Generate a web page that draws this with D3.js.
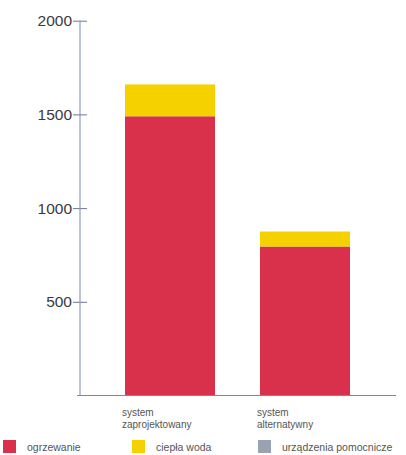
<!DOCTYPE html>
<html>
<head>
<meta charset="utf-8">
<script src="https://cdn.jsdelivr.net/npm/d3@7"></script>
<style>
  body { margin: 0; background: #fff; }
  svg { display: block; font-family: "Liberation Sans", Arial, sans-serif; }
</style>
</head>
<body>
<svg id="chart" width="406" height="455"></svg>
<script>
// values
var categories = [['system', 'zaprojektowany'], ['system', 'alternatywny']];
var heating = [1490, 795];      // ogrzewanie
var hotWater = [170, 80];       // ciepła woda
var auxiliary = [0, 0];         // urządzenia pomocnicze
var yTicks = [500, 1000, 1500, 2000];
var seriesNames = ['ogrzewanie', 'ciepła woda', 'urządzenia pomocnicze'];
var seriesColors = ['#d9304c', '#f6d100', '#9aa3b1'];

var svg = d3.select('#chart');

var x = d3.scaleBand()
    .domain(d3.range(categories.length))
    .range([80, 395])
    .paddingInner(1 / 3)
    .paddingOuter(1 / 3);

var y = d3.scaleLinear()
    .domain([0, 2000])
    .range([395.5, 20.7]);

// stack the three series
var rows = categories.map(function(c, i) {
    return { i: i, heating: heating[i], hotWater: hotWater[i], auxiliary: auxiliary[i] };
});
var stack = d3.stack().keys(['heating', 'hotWater', 'auxiliary']);
var layers = stack(rows);

svg.selectAll('g.layer')
    .data(layers)
    .enter().append('g')
    .attr('class', 'layer')
    .attr('fill', function(d, i) { return seriesColors[i]; })
    .selectAll('rect')
    .data(function(d) { return d; })
    .enter().append('rect')
    .attr('x', function(d) { return x(d.data.i); })
    .attr('width', x.bandwidth())
    .attr('y', function(d) { return y(d[1]); })
    .attr('height', function(d) { return y(d[0]) - y(d[1]); });

// y axis, ticks crossing the line
var yAxis = svg.append('g')
    .attr('transform', 'translate(80,0)')
    .call(d3.axisLeft(y).tickValues(yTicks).tickFormat(d3.format('d')).tickSize(7).tickPadding(1));
yAxis.select('.domain').remove();
yAxis.append('line')
    .attr('x1', 0).attr('x2', 0)
    .attr('y1', y(2000)).attr('y2', y(0))
    .attr('stroke', '#8088b0')
    .attr('stroke-width', 1);
yAxis.selectAll('.tick line')
    .attr('x1', -7).attr('x2', 7)
    .attr('stroke', '#6f7898');
yAxis.selectAll('.tick text')
    .attr('font-size', 15.5)
    .attr('fill', '#3a3a3a')
    .attr('font-family', '"Liberation Sans", Arial, sans-serif');

// baseline
svg.append('line')
    .attr('x1', 77).attr('x2', 396)
    .attr('y1', y(0)).attr('y2', y(0))
    .attr('stroke', '#7e86a6')
    .attr('stroke-width', 1);

// category labels
svg.selectAll('text.cat')
    .data(categories)
    .enter().append('text')
    .attr('class', 'cat')
    .attr('font-size', 10)
    .attr('fill', '#555')
    .attr('x', function(d, i) { return x(i) - 3; })
    .attr('y', 416)
    .selectAll('tspan')
    .data(function(d) { return d; })
    .enter().append('tspan')
    .attr('x', function() { return d3.select(this.parentNode).attr('x'); })
    .attr('dy', function(d, j) { return j === 0 ? 0 : 12; })
    .text(function(d) { return d; });

// legend
var legendX = [3, 132, 258];
var legend = svg.selectAll('g.legend')
    .data(seriesNames)
    .enter().append('g')
    .attr('class', 'legend')
    .attr('transform', function(d, i) { return 'translate(' + legendX[i] + ',440)'; });
legend.append('rect')
    .attr('width', 13).attr('height', 13)
    .attr('fill', function(d, i) { return seriesColors[i]; });
legend.append('text')
    .attr('x', 24).attr('y', 11)
    .attr('font-size', 10.5)
    .attr('fill', '#555')
    .text(function(d) { return d; });
</script>
</body>
</html>
